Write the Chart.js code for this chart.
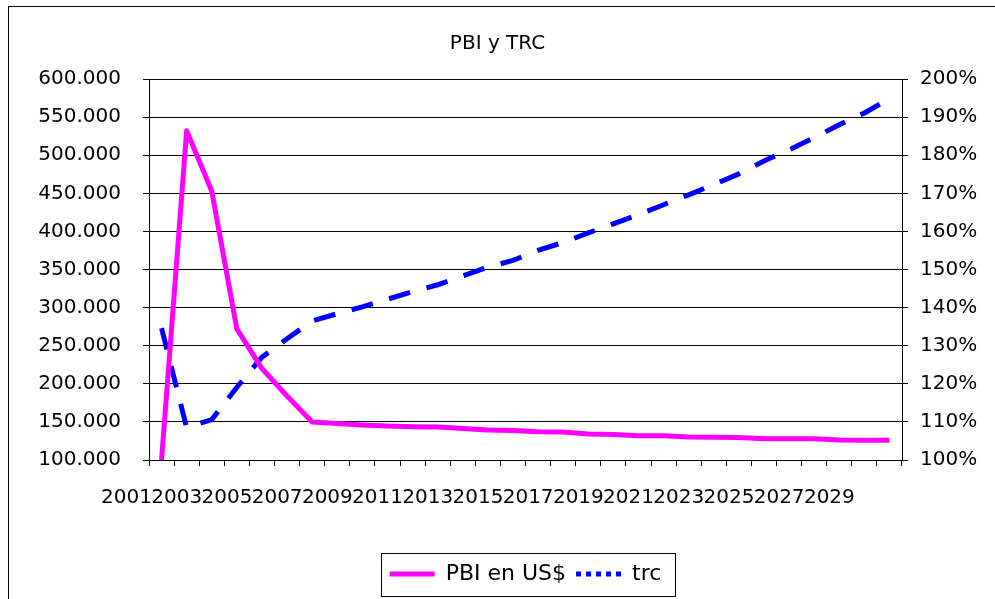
<!DOCTYPE html>
<html>
<head>
<meta charset="utf-8">
<script src="https://cdn.jsdelivr.net/npm/chart.js@4.4.1/dist/chart.umd.min.js"></script>
<style>
  html, body { margin: 0; padding: 0; background: #fff; }
  #wrap { width: 995px; height: 599px; }
</style>
</head>
<body>
<div id="wrap"><canvas id="chart" width="995" height="599"></canvas></div>
<script>
// PBI y TRC

const years = ['2001', '2002', '2003', '2004', '2005', '2006', '2007', '2008', '2009', '2010',
  '2011', '2012', '2013', '2014', '2015', '2016', '2017', '2018', '2019', '2020',
  '2021', '2022', '2023', '2024', '2025', '2026', '2027', '2028', '2029', '2030'];

// PBI en US$ (left axis)
const pbi = [100000, 532000, 453000, 272000, 220000, 184000, 150000, 147800, 145800, 144500,
  143600, 143200, 141200, 139300, 138600, 137000, 136600, 134000, 133600, 131800,
  131800, 130100, 129700, 129500, 127900, 127900, 127900, 126200, 125800, 125800];

// trc in percent (right axis)
const trc = [134.6, 108.5, 110.6, 119.1, 127.0, 131.8, 136.5, 138.4, 140.2, 142.2,
  144.2, 146.0, 148.3, 150.6, 152.4, 155.0, 157.1, 159.6, 162.0, 164.4,
  167.0, 169.6, 172.3, 175.1, 178.5, 181.4, 184.6, 188.0, 191.1, 194.8];

const FONT = 'DejaVu Sans';

function thousands(v) {
  return String(v).replace(/\B(?=(\d{3})+(?!\d))/g, '.');
}

// white background and the outer frame of the chart object
const framePlugin = {
  id: 'frame',
  beforeDraw(chart) {
    const ctx = chart.ctx;
    ctx.save();
    ctx.fillStyle = '#fff';
    ctx.fillRect(0, 0, chart.width, chart.height);
    ctx.strokeStyle = '#000';
    ctx.lineWidth = 1;
    ctx.strokeRect(8.5, 6.5, chart.width + 20, chart.height + 20);
    ctx.restore();
  },
  afterDraw(chart) {
    // box round the legend
    const lg = chart.legend;
    if (!lg || !lg.legendHitBoxes || !lg.legendHitBoxes.length) return;
    const boxes = lg.legendHitBoxes;
    const left = Math.min(...boxes.map(b => b.left)) - 9;
    const right = Math.max(...boxes.map(b => b.left + b.width)) + 13;
    const top = Math.min(...boxes.map(b => b.top)) - 10;
    const bottom = Math.max(...boxes.map(b => b.top + b.height)) + 11;
    const ctx = chart.ctx;
    ctx.save();
    ctx.strokeStyle = '#000';
    ctx.lineWidth = 1;
    ctx.strokeRect(Math.round(left) + 0.5, Math.round(top) + 0.5, Math.round(right - left), Math.round(bottom - top));
    ctx.restore();
  }
};

const ctx = document.getElementById('chart').getContext('2d');
new Chart(ctx, {
  type: 'line',
  data: {
    labels: years,
    datasets: [{
      label: 'PBI en US$',
      data: pbi,
      yAxisID: 'y',
      borderColor: '#ff00ff',
      backgroundColor: '#ff00ff',
      borderWidth: 5,
      borderJoinStyle: 'round',
      pointRadius: 0,
      tension: 0,
      fill: false
    }, {
      label: 'trc',
      data: trc,
      yAxisID: 'y1',
      borderColor: '#0000ff',
      backgroundColor: '#0000ff',
      borderWidth: 5,
      borderDash: [22, 17],
      pointRadius: 0,
      tension: 0,
      fill: false
    }]
  },
  options: {
    responsive: false,
    animation: false,
    devicePixelRatio: 1,
    layout: { padding: { left: 0, right: 0, top: 0, bottom: 4 } },
    plugins: {
      title: {
        display: true,
        text: 'PBI y TRC',
        color: '#000',
        font: { family: FONT, size: 20, weight: 'normal' },
        padding: { top: 32, bottom: 23 }
      },
      legend: {
        display: true,
        position: 'bottom',
        fullSize: false,
        labels: {
          color: '#000',
          font: { family: FONT, size: 22 },
          usePointStyle: true,
          pointStyle: 'line',
          pointStyleWidth: 45,
          padding: 10,
          generateLabels(chart) {
            const items = Chart.defaults.plugins.legend.labels.generateLabels(chart);
            items.forEach(it => {
              it.pointStyle = 'line';
              if (it.datasetIndex === 1) it.lineDash = [5, 5];
            });
            return items;
          }
        }
      },
      tooltip: { enabled: false }
    },
    scales: {
      x: {
        offset: true,
        grid: { display: true, offset: true, drawOnChartArea: false, drawTicks: true, tickLength: 6, color: '#000' },
        border: { display: true, color: '#000' },
        ticks: {
          autoSkip: false,
          maxRotation: 0,
          minRotation: 0,
          labelOffset: -35,
          padding: 20,
          color: '#000',
          font: { family: FONT, size: 20 },
          callback: (val, i) => (i % 2 === 0 ? years[i] : '')
        },
        afterFit: s => { s.height = 93; }
      },
      y: {
        position: 'left',
        min: 100000,
        max: 600000,
        grid: { color: '#000', drawTicks: true, tickLength: 6 },
        border: { display: true, color: '#000' },
        ticks: {
          stepSize: 50000,
          padding: 22,
          color: '#000',
          font: { family: FONT, size: 20 },
          callback: v => thousands(v)
        },
        afterFit: s => { s.width = 149; }
      },
      y1: {
        position: 'right',
        min: 100,
        max: 200,
        grid: { color: '#000', drawOnChartArea: false, drawTicks: true, tickLength: 6 },
        border: { display: true, color: '#000' },
        ticks: {
          stepSize: 10,
          padding: 12,
          color: '#000',
          font: { family: FONT, size: 20 },
          callback: v => Math.round(v) + '%'
        },
        afterFit: s => { s.width = 93; }
      }
    }
  },
  plugins: [framePlugin]
});
</script>
</body>
</html>
